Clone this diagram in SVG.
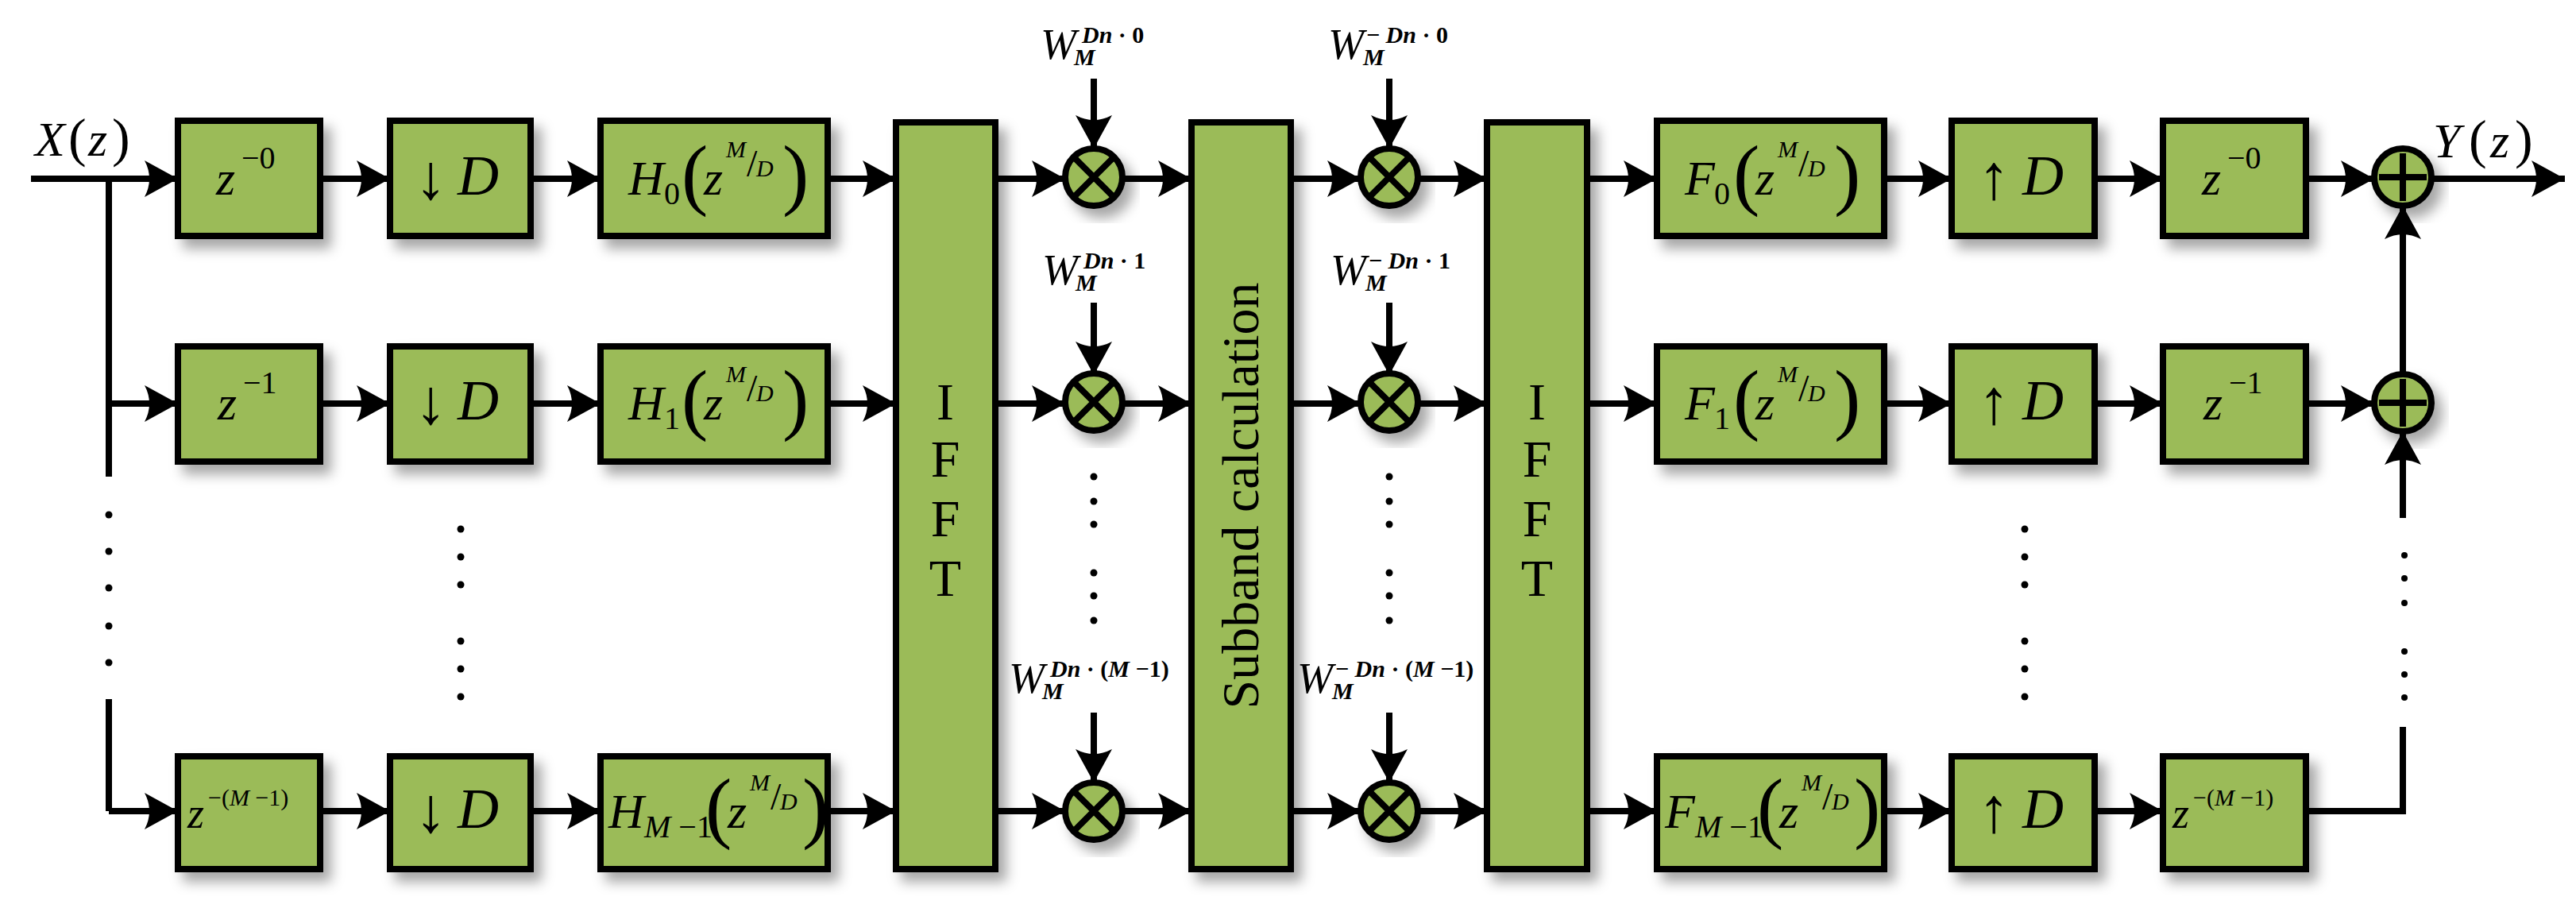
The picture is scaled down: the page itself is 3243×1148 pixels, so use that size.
<svg xmlns="http://www.w3.org/2000/svg" width="3243" height="1148" viewBox="0 0 3243 1148">
<defs>
<filter id="sh" x="-20%" y="-20%" width="150%" height="150%"><feDropShadow dx="10" dy="12" stdDeviation="8" flood-color="#000" flood-opacity="0.35"/></filter>
<marker id="ar" markerUnits="userSpaceOnUse" markerWidth="50" markerHeight="50" viewBox="-45 -25 50 50" refX="0" refY="0" orient="auto"><path d="M0,0 L-42,-23 Q-30,0 -42,23 Z" fill="#000"/></marker>
</defs>
<style>
.b{fill:#9bbb59;stroke:#000;stroke-width:8;filter:url(#sh)}
.c{fill:#9bbb59;stroke:#000;stroke-width:8;filter:url(#sh)}
.l{stroke:#000;stroke-width:8;fill:none}
.a{stroke:#000;stroke-width:8;fill:none;marker-end:url(#ar)}
text{font-family:"Liberation Serif","DejaVu Serif","Times New Roman",serif;fill:#000}
.i{font-style:italic}
.m{font-size:62px}
.s{font-size:40px}
.p{font-size:100px}
.ar{font-size:80px}
.d{fill:#000}
.w{font-size:54px;font-style:italic}
.ws{font-size:30px;font-weight:bold}
</style>
<rect width="3243" height="1148" fill="#fff"/>
<g id="connectors">
<path class="a" d="M39,225 H224"/>
<path class="l" d="M137,225 V600 M137,880 V1021"/>
<path class="a" d="M137,508 H224"/>
<path class="a" d="M137,1021 H224"/>
<path class="a" d="M403,225 H491"/><path class="a" d="M403,508 H491"/><path class="a" d="M403,1021 H491"/>
<path class="a" d="M668,225 H756"/><path class="a" d="M668,508 H756"/><path class="a" d="M668,1021 H756"/>
<path class="a" d="M1042,225 H1128"/><path class="a" d="M1042,508 H1128"/><path class="a" d="M1042,1021 H1128"/>
<path class="a" d="M1253,225 H1341"/><path class="a" d="M1253,508 H1341"/><path class="a" d="M1253,1021 H1341"/>
<path class="a" d="M1413,225 H1500"/><path class="a" d="M1413,508 H1500"/><path class="a" d="M1413,1021 H1500"/>
<path class="a" d="M1625,225 H1713"/><path class="a" d="M1625,508 H1713"/><path class="a" d="M1625,1021 H1713"/>
<path class="a" d="M1785,225 H1872"/><path class="a" d="M1785,508 H1872"/><path class="a" d="M1785,1021 H1872"/>
<path class="a" d="M1998,225 H2086"/><path class="a" d="M1998,508 H2086"/><path class="a" d="M1998,1021 H2086"/>
<path class="a" d="M2372,225 H2457"/><path class="a" d="M2372,508 H2457"/><path class="a" d="M2372,1021 H2457"/>
<path class="a" d="M2637,225 H2723"/><path class="a" d="M2637,508 H2723"/><path class="a" d="M2637,1021 H2723"/>
<path class="a" d="M2903,225 H2989"/><path class="a" d="M2903,508 H2989"/>
<path class="l" d="M2903,1021 H3025 V915"/>
<path class="a" d="M3025,652 V543"/>
<path class="a" d="M3025,471 V259"/>
<path class="a" d="M3061,225 H3229"/>
<path class="a" d="M1377,99 V187"/><path class="a" d="M1377,381 V472"/><path class="a" d="M1377,897 V985"/>
<path class="a" d="M1749,99 V187"/><path class="a" d="M1749,381 V472"/><path class="a" d="M1749,897 V985"/>
</g>
<g id="dots" class="d">
<circle cx="137" cy="648" r="4.5"/><circle cx="137" cy="694" r="4.5"/><circle cx="137" cy="740" r="4.5"/><circle cx="137" cy="788" r="4.5"/><circle cx="137" cy="834" r="4.5"/>
<circle cx="580" cy="666" r="4.5"/><circle cx="580" cy="701" r="4.5"/><circle cx="580" cy="736" r="4.5"/><circle cx="580" cy="807" r="4.5"/><circle cx="580" cy="842" r="4.5"/><circle cx="580" cy="877" r="4.5"/>
<circle cx="2549" cy="666" r="4.5"/><circle cx="2549" cy="701" r="4.5"/><circle cx="2549" cy="736" r="4.5"/><circle cx="2549" cy="807" r="4.5"/><circle cx="2549" cy="842" r="4.5"/><circle cx="2549" cy="877" r="4.5"/>
<circle cx="1377" cy="600" r="4.5"/><circle cx="1377" cy="631" r="4.5"/><circle cx="1377" cy="660" r="4.5"/><circle cx="1377" cy="721" r="4.5"/><circle cx="1377" cy="750" r="4.5"/><circle cx="1377" cy="781" r="4.5"/>
<circle cx="1749" cy="600" r="4.5"/><circle cx="1749" cy="631" r="4.5"/><circle cx="1749" cy="660" r="4.5"/><circle cx="1749" cy="721" r="4.5"/><circle cx="1749" cy="750" r="4.5"/><circle cx="1749" cy="781" r="4.5"/>
<circle cx="3027" cy="699" r="4"/><circle cx="3027" cy="728" r="4"/><circle cx="3027" cy="759" r="4"/><circle cx="3027" cy="820" r="4"/><circle cx="3027" cy="849" r="4"/><circle cx="3027" cy="878" r="4"/>
</g>
<g id="labels">
<text x="44" y="196" class="i" font-size="62">X</text><text x="86" y="196" font-size="68">(</text><text x="111" y="196" class="i" font-size="62">z</text><text x="141" y="196" font-size="68">)</text>
<text x="3063" y="198" class="i" font-size="62">Y</text><text x="3108" y="198" font-size="68">(</text><text x="3135" y="198" class="i" font-size="62">z</text><text x="3166" y="198" font-size="68">)</text>
</g>
<g id="z0"><rect class="b" x="224" y="152" width="179" height="145"/><text x="272" y="245" class="i m">z</text><text x="304" y="212" class="s">−0</text></g>
<g id="z1"><rect class="b" x="224" y="436" width="179" height="145"/><text x="274" y="528" class="i m">z</text><text x="306" y="495" class="s">−1</text></g>
<g id="zM"><rect class="b" x="224" y="952" width="179" height="142"/><text x="236" y="1042" class="i" font-size="54">z</text><text x="262" y="1014" font-size="30">−(<tspan class="i">M</tspan> −1)</text></g>
<g id="dd0"><rect class="b" x="491" y="152" width="177" height="145"/><text x="522" y="250" class="ar">↓</text><text x="576" y="245" class="i" font-size="72">D</text></g>
<g id="dd1"><rect class="b" x="491" y="436" width="177" height="145"/><text x="522" y="533" class="ar">↓</text><text x="576" y="528" class="i" font-size="72">D</text></g>
<g id="ddM"><rect class="b" x="491" y="952" width="177" height="142"/><text x="522" y="1047" class="ar">↓</text><text x="576" y="1042" class="i" font-size="72">D</text></g>
<g id="h0"><rect class="b" x="756" y="152" width="286" height="145"/>
<text x="791" y="245" class="i m">H</text><text x="836" y="257" class="s">0</text><text x="858" y="252" class="p">(</text><text x="886" y="245" class="i m">z</text><text x="914" y="198" class="i" font-size="30">M</text><text x="940" y="222" font-size="48">/</text><text x="952" y="222" class="i" font-size="30">D</text><text x="985" y="252" class="p">)</text></g>
<g id="h1"><rect class="b" x="756" y="436" width="286" height="145"/>
<text x="791" y="528" class="i m">H</text><text x="836" y="540" class="s">1</text><text x="858" y="535" class="p">(</text><text x="886" y="528" class="i m">z</text><text x="914" y="481" class="i" font-size="30">M</text><text x="940" y="505" font-size="48">/</text><text x="952" y="505" class="i" font-size="30">D</text><text x="985" y="535" class="p">)</text></g>
<g id="hM"><rect class="b" x="756" y="952" width="286" height="142"/>
<text x="766" y="1042" class="i m">H</text><text x="811" y="1054" class="s"><tspan class="i">M</tspan> −1</text><text x="888" y="1049" class="p">(</text><text x="916" y="1042" class="i m">z</text><text x="944" y="995" class="i" font-size="30">M</text><text x="970" y="1019" font-size="48">/</text><text x="982" y="1019" class="i" font-size="30">D</text><text x="1010" y="1049" class="p">)</text></g>
<g id="ifft1"><rect class="b" x="1128" y="154" width="125" height="940"/>
<text x="1190" y="528" font-size="66" text-anchor="middle">I</text><text x="1190" y="600" font-size="66" text-anchor="middle">F</text><text x="1190" y="675" font-size="66" text-anchor="middle">F</text><text x="1190" y="750" font-size="66" text-anchor="middle">T</text></g>
<g id="sub"><rect class="b" x="1500" y="154" width="125" height="940"/><text transform="translate(1584,624) rotate(-90)" font-size="66" text-anchor="middle">Subband calculation</text></g>
<g id="ifft2"><rect class="b" x="1872" y="154" width="126" height="940"/>
<text x="1935" y="528" font-size="66" text-anchor="middle">I</text><text x="1935" y="600" font-size="66" text-anchor="middle">F</text><text x="1935" y="675" font-size="66" text-anchor="middle">F</text><text x="1935" y="750" font-size="66" text-anchor="middle">T</text></g>
<g id="mult">
<g transform="translate(1377,223)"><circle class="c" r="36"/><path class="l" d="M-23,-23 L23,23 M23,-23 L-23,23"/></g>
<g transform="translate(1377,506)"><circle class="c" r="36"/><path class="l" d="M-23,-23 L23,23 M23,-23 L-23,23"/></g>
<g transform="translate(1377,1021)"><circle class="c" r="36"/><path class="l" d="M-23,-23 L23,23 M23,-23 L-23,23"/></g>
<g transform="translate(1749,223)"><circle class="c" r="36"/><path class="l" d="M-23,-23 L23,23 M23,-23 L-23,23"/></g>
<g transform="translate(1749,506)"><circle class="c" r="36"/><path class="l" d="M-23,-23 L23,23 M23,-23 L-23,23"/></g>
<g transform="translate(1749,1021)"><circle class="c" r="36"/><path class="l" d="M-23,-23 L23,23 M23,-23 L-23,23"/></g>
</g>
<g id="wlabels">
<text x="1310" y="74" class="w">W</text><text x="1352" y="82" class="ws i">M</text><text x="1362" y="54" class="ws"><tspan class="i">Dn</tspan> · 0</text>
<text x="1312" y="358" class="w">W</text><text x="1354" y="366" class="ws i">M</text><text x="1364" y="338" class="ws"><tspan class="i">Dn</tspan> · 1</text>
<text x="1270" y="872" class="w">W</text><text x="1312" y="880" class="ws i">M</text><text x="1322" y="852" class="ws"><tspan class="i">Dn</tspan> · (<tspan class="i">M</tspan> −1)</text>
<text x="1672" y="74" class="w">W</text><text x="1716" y="82" class="ws i">M</text><text x="1720" y="54" class="ws">− <tspan class="i">Dn</tspan> · 0</text>
<text x="1675" y="358" class="w">W</text><text x="1719" y="366" class="ws i">M</text><text x="1723" y="338" class="ws">− <tspan class="i">Dn</tspan> · 1</text>
<text x="1633" y="872" class="w">W</text><text x="1677" y="880" class="ws i">M</text><text x="1681" y="852" class="ws">− <tspan class="i">Dn</tspan> · (<tspan class="i">M</tspan> −1)</text>
</g>
<g id="f0"><rect class="b" x="2086" y="152" width="286" height="145"/>
<text x="2121" y="245" class="i m">F</text><text x="2158" y="257" class="s">0</text><text x="2182" y="252" class="p">(</text><text x="2210" y="245" class="i m">z</text><text x="2238" y="198" class="i" font-size="30">M</text><text x="2264" y="222" font-size="48">/</text><text x="2276" y="222" class="i" font-size="30">D</text><text x="2309" y="252" class="p">)</text></g>
<g id="f1"><rect class="b" x="2086" y="436" width="286" height="145"/>
<text x="2121" y="528" class="i m">F</text><text x="2158" y="540" class="s">1</text><text x="2182" y="535" class="p">(</text><text x="2210" y="528" class="i m">z</text><text x="2238" y="481" class="i" font-size="30">M</text><text x="2264" y="505" font-size="48">/</text><text x="2276" y="505" class="i" font-size="30">D</text><text x="2309" y="535" class="p">)</text></g>
<g id="fM"><rect class="b" x="2086" y="952" width="286" height="142"/>
<text x="2096" y="1042" class="i m">F</text><text x="2134" y="1054" class="s"><tspan class="i">M</tspan> −1</text><text x="2212" y="1049" class="p">(</text><text x="2240" y="1042" class="i m">z</text><text x="2268" y="995" class="i" font-size="30">M</text><text x="2294" y="1019" font-size="48">/</text><text x="2306" y="1019" class="i" font-size="30">D</text><text x="2334" y="1049" class="p">)</text></g>
<g id="ud0"><rect class="b" x="2457" y="152" width="180" height="145"/><text x="2490" y="250" class="ar">↑</text><text x="2546" y="245" class="i" font-size="72">D</text></g>
<g id="ud1"><rect class="b" x="2457" y="436" width="180" height="145"/><text x="2490" y="533" class="ar">↑</text><text x="2546" y="528" class="i" font-size="72">D</text></g>
<g id="udM"><rect class="b" x="2457" y="952" width="180" height="142"/><text x="2490" y="1047" class="ar">↑</text><text x="2546" y="1042" class="i" font-size="72">D</text></g>
<g id="zz0"><rect class="b" x="2723" y="152" width="180" height="145"/><text x="2772" y="245" class="i m">z</text><text x="2804" y="212" class="s">−0</text></g>
<g id="zz1"><rect class="b" x="2723" y="436" width="180" height="145"/><text x="2774" y="528" class="i m">z</text><text x="2806" y="495" class="s">−1</text></g>
<g id="zzM"><rect class="b" x="2723" y="952" width="180" height="142"/><text x="2735" y="1042" class="i" font-size="54">z</text><text x="2761" y="1014" font-size="30">−(<tspan class="i">M</tspan> −1)</text></g>
<g id="sum">
<g transform="translate(3025,223)"><circle class="c" r="36"/><path class="l" d="M-30,0 H30 M0,-30 V30"/></g>
<g transform="translate(3025,507)"><circle class="c" r="36"/><path class="l" d="M-30,0 H30 M0,-30 V30"/></g>
</g>
</svg>
